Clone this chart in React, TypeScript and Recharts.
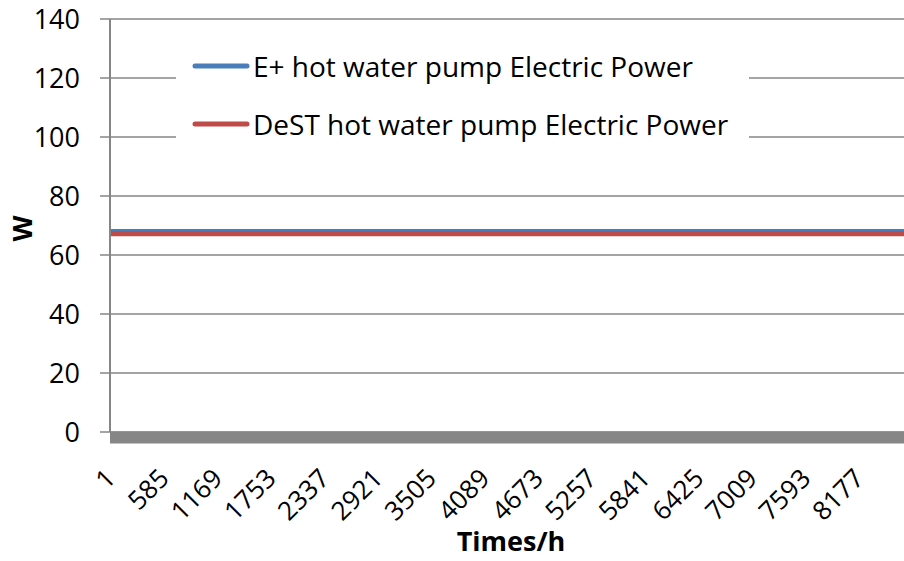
import React from 'react';
import { LineChart, Line, XAxis, YAxis, CartesianGrid, Legend, Label } from 'recharts';

// hours shown on the category axis (every 584 h), plus the last hour of the year
const hours = [1, 585, 1169, 1753, 2337, 2921, 3505, 4089, 4673, 5257, 5841, 6425, 7009, 7593, 8177, 8760];
const tickHours = [1, 585, 1169, 1753, 2337, 2921, 3505, 4089, 4673, 5257, 5841, 6425, 7009, 7593, 8177];
// pump power (flat all year)
const ePlusPower = [68, 68, 68, 68, 68, 68, 68, 68, 68, 68, 68, 68, 68, 68, 68, 68];
const destPower = [67.2, 67.2, 67.2, 67.2, 67.2, 67.2, 67.2, 67.2, 67.2, 67.2, 67.2, 67.2, 67.2, 67.2, 67.2, 67.2];
const yTicks = [0, 20, 40, 60, 80, 100, 120, 140];

const seriesNames = ['E+ hot water pump Electric Power', 'DeST hot water pump Electric Power'];
const seriesColors = ['#4a7ebb', '#be4b48'];

const data = hours.map((h, i) => ({ hour: h, eplus: ePlusPower[i], dest: destPower[i] }));

const FONT = '"Open Sans", sans-serif';

const XTick = (props: any) => {
    const { x, y, payload } = props;
    const px = x + 7;
    const py = y + 48;
    return (
        <text x={px} y={py} transform={`rotate(-45, ${px}, ${py})`} textAnchor="end" fontSize={26} fontFamily={FONT} fill="#000">
            {payload.value}
        </text>
    );
};

const LegendBox = () => (
    <div style={{ width: 573, height: 125, background: '#fff', position: 'relative', fontFamily: FONT }}>
        {seriesNames.map((name, i) => (
            <div key={name} style={{ position: 'absolute', left: 0, top: 8 + i * 58, height: 36, display: 'flex', alignItems: 'center' }}>
                <svg width={77} height={36}>
                    <line x1={19} y1={18} x2={71} y2={18} stroke={seriesColors[i]} strokeWidth={5} strokeLinecap="round" />
                </svg>
                <span style={{ fontSize: 28, color: '#000', whiteSpace: 'nowrap', lineHeight: '36px' }}>{name}</span>
            </div>
        ))}
    </div>
);

export default function App() {
    return (
        <div style={{ position: 'fixed', left: 0, top: 0, width: 904, height: 561, overflow: 'hidden', background: '#fff' }}>
            <LineChart width={912} height={561} data={data} margin={{ top: 19, right: 0, left: 0, bottom: 0 }}>
                <CartesianGrid vertical={false} stroke="#868686" strokeWidth={1.5} />
                <XAxis
                    dataKey="hour"
                    type="number"
                    domain={[1, 8760]}
                    ticks={tickHours}
                    interval={0}
                    tick={<XTick />}
                    tickLine={false}
                    tickSize={0}
                    tickMargin={0}
                    height={129}
                    axisLine={{ stroke: '#868686', strokeWidth: 12, transform: 'translate(0, 5.5)' }}
                >
                    <Label value="Times/h" position="insideBottom" offset={10} style={{ fontFamily: FONT, fontSize: 27, fontWeight: 700, fill: '#000' }} />
                </XAxis>
                <YAxis
                    domain={[0, 140]}
                    ticks={yTicks}
                    width={110}
                    tickSize={10}
                    tickMargin={20}
                    tickLine={{ stroke: '#868686', strokeWidth: 1.5 }}
                    axisLine={{ stroke: '#868686', strokeWidth: 2 }}
                    tick={{ fontFamily: FONT, fontSize: 27, fill: '#000' }}
                >
                    <Label
                        content={({ viewBox }: any) => {
                            const cx = 21;
                            const cy = viewBox.y + viewBox.height / 2 + 3;
                            return (
                                <text x={cx} y={cy} transform={`rotate(-90, ${cx}, ${cy})`} textAnchor="middle" dominantBaseline="central" fontFamily={FONT} fontSize={27} fontWeight={700} fill="#000">
                                    W
                                </text>
                            );
                        }}
                    />
                </YAxis>
                <Legend
                    content={<LegendBox />}
                    layout="horizontal"
                    verticalAlign="middle"
                    align="center"
                    wrapperStyle={{ left: 176, top: 40, width: 573, height: 125 }}
                />
                <Line dataKey="eplus" name={seriesNames[0]} stroke={seriesColors[0]} strokeWidth={5} dot={false} isAnimationActive={false} />
                <Line dataKey="dest" name={seriesNames[1]} stroke={seriesColors[1]} strokeWidth={5} dot={false} isAnimationActive={false} />
            </LineChart>
        </div>
    );
}
